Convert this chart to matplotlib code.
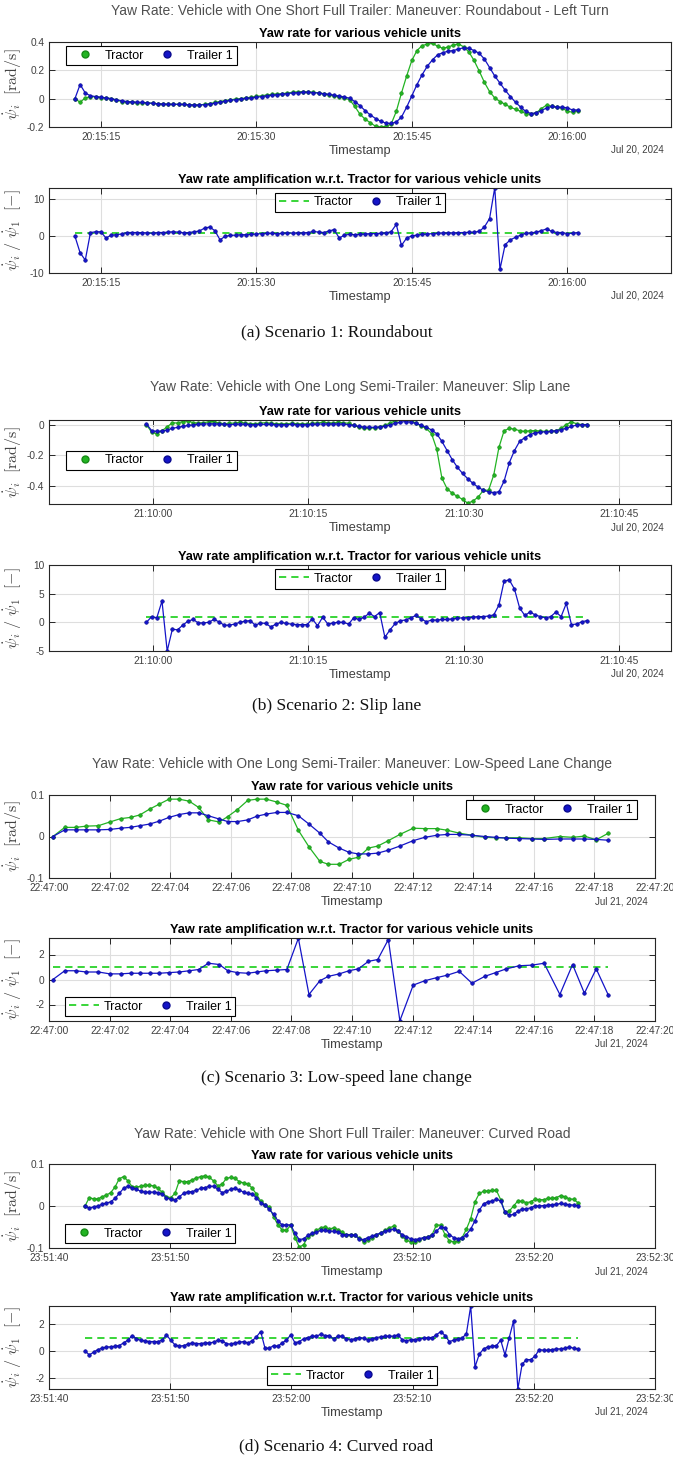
import numpy as np
import pandas as pd
import matplotlib
matplotlib.use('Agg')
import matplotlib.pyplot as plt
import matplotlib.dates as mdates
from matplotlib.lines import Line2D
from matplotlib.ticker import FuncFormatter

plt.rcParams['font.family'] = ['Liberation Sans', 'DejaVu Sans']
plt.rcParams['mathtext.fontset'] = 'cm'
plt.rcParams['axes.unicode_minus'] = False

# ---------------- data (yaw rate in rad/s, ratio trailer/tractor) ----------------
tractor_ref = 1.0

# Scenario 1: roundabout, samples every 0.5 s from 20:15:12.5
s1_start = '2024-07-20 20:15:12.5'
s1_dt = 0.5
s1_tractor = [0, -0.025, 0.005, 0.015, 0.012, 0.008, 0.005, 0.0, -0.01, -0.02,
              -0.025, -0.026, -0.028, -0.029, -0.03, -0.033, -0.036, -0.039, -0.04, -0.04,
              -0.04, -0.041, -0.043, -0.044, -0.045, -0.04, -0.035, -0.027, -0.02, -0.013,
              -0.008, -0.003, 0.0, 0.006, 0.01, 0.016, 0.02, 0.026, 0.03, 0.033,
              0.035, 0.04, 0.045, 0.048, 0.05, 0.047, 0.045, 0.04, 0.035, 0.028,
              0.02, 0.012, 0.005, -0.008, -0.055, -0.11, -0.145, -0.17, -0.195, -0.2,
              -0.195, -0.18, -0.09, 0.04, 0.16, 0.27, 0.34, 0.375, 0.385, 0.39,
              0.37, 0.355, 0.365, 0.378, 0.388, 0.365, 0.33, 0.27, 0.195, 0.115,
              0.05, 0.005, -0.02, -0.04, -0.06, -0.075, -0.09, -0.105, -0.11, -0.1,
              -0.07, -0.045, -0.055, -0.06, -0.065, -0.09, -0.095, -0.085]
s1_trailer = [0, 0.1, 0.04, 0.02, 0.015, 0.01, 0.005, 0.0, -0.008, -0.015,
              -0.02, -0.023, -0.025, -0.027, -0.03, -0.033, -0.036, -0.038, -0.04, -0.04,
              -0.04, -0.041, -0.043, -0.045, -0.045, -0.042, -0.038, -0.032, -0.025, -0.018,
              -0.012, -0.007, -0.003, 0.002, 0.006, 0.01, 0.015, 0.02, 0.024, 0.028,
              0.032, 0.036, 0.04, 0.043, 0.045, 0.045, 0.043, 0.04, 0.035, 0.03,
              0.025, 0.018, 0.012, 0.003, -0.02, -0.05, -0.085, -0.115, -0.14, -0.16,
              -0.172, -0.175, -0.165, -0.13, -0.06, 0.02, 0.1, 0.17, 0.23, 0.275,
              0.31, 0.325, 0.335, 0.34, 0.35, 0.36, 0.355, 0.34, 0.32, 0.28,
              0.22, 0.16, 0.11, 0.06, 0.015, -0.025, -0.06, -0.09, -0.105, -0.1,
              -0.085, -0.065, -0.055, -0.06, -0.06, -0.065, -0.08, -0.08]
s1_ratio = [0, -4.5, -6.5, 1.0, 1.2, 1.2, -0.5, 0.3, 0.4, 0.6,
            1.0, 1.0, 1.0, 0.95, 0.9, 0.8, 1.0, 1.0, 1.1, 1.2,
            1.1, 0.9, 1.0, 1.2, 1.4, 2.2, 2.5, 1.5, -1.0, 0.0,
            0.2, 0.3, 0.4, 0.4, 0.5, 0.6, 0.7, 0.8, 0.8, 0.7,
            0.8, 0.9, 0.85, 0.9, 0.9, 1.0, 1.3, 1.1, 1.0, 1.4,
            1.8, -0.5, 0.3, 0.5, 0.4, 0.5, 0.6, 0.7, 0.7, 0.8,
            0.9, 1.2, 3.2, -2.5, -0.5, 0.1, 0.3, 0.5, 0.6, 0.7,
            0.8, 0.9, 0.9, 0.9, 0.95, 1.0, 1.05, 1.1, 1.3, 2.5,
            4.8, 13.2, -9.0, -2.3, -1.0, -0.3, 0.3, 0.8, 0.9, 1.1,
            1.5, 2.0, 1.3, 1.0, 1.0, 0.7, 0.8, 1.0]

# Scenario 2: slip lane, samples every 0.5 s from 21:09:59.4
s2_start = '2024-07-20 21:09:59.4'
s2_dt = 0.5
s2_tractor = [0, -0.05, -0.06, -0.04, -0.015, 0.012, 0.01, 0.02, 0.025, 0.012,
              0.01, 0.012, 0.018, 0.02, 0.01, 0.006, 0.008, 0.01, 0.015, 0.01,
              0.006, 0.005, 0.01, 0.012, 0.008, 0.006, 0.005, 0.005, 0.008, 0.006,
              0.005, 0.004, 0.008, 0.01, 0.015, 0.012, 0.01, 0.015, 0.012, 0.008,
              -0.005, -0.018, -0.022, -0.025, -0.022, -0.015, -0.005, 0.01, 0.025, 0.035,
              0.035, 0.028, 0.01, -0.01, -0.025, -0.06, -0.16, -0.35, -0.42, -0.45,
              -0.47, -0.49, -0.515, -0.5, -0.475, -0.43, -0.43, -0.33, -0.15, -0.04,
              -0.025, -0.03, -0.04, -0.045, -0.04, -0.04, -0.042, -0.045, -0.045, -0.04,
              -0.025, 0.0, 0.018, 0.005, 0.0, 0.0]
s2_trailer = [0.005, -0.04, -0.045, -0.042, -0.035, -0.025, -0.018, -0.012, -0.006, -0.002,
              0.002, 0.004, 0.005, 0.005, 0.004, 0.002, 0.0, 0.002, 0.003, 0.002,
              0.0, 0.0, 0.001, 0.002, 0.001, 0.0, 0.0, 0.0, 0.001, 0.0,
              0.0, 0.0, 0.001, 0.003, 0.004, 0.004, 0.004, 0.004, 0.003, 0.0,
              -0.006, -0.012, -0.016, -0.018, -0.018, -0.016, -0.01, -0.002, 0.008, 0.016,
              0.02, 0.016, 0.008, -0.005, -0.018, -0.035, -0.06, -0.11, -0.17, -0.23,
              -0.28, -0.32, -0.355, -0.385, -0.41, -0.43, -0.44, -0.445, -0.44, -0.37,
              -0.25, -0.17, -0.11, -0.085, -0.065, -0.055, -0.05, -0.047, -0.045, -0.04,
              -0.033, -0.025, -0.012, -0.003, 0.0, 0.0]
s2_ratio = [0, 1.0, 0.8, 3.7, -5.0, -1.2, -1.3, -0.5, 0.2, 0.5,
            -0.1, -0.1, 0.0, 0.5, 0.1, -0.5, -0.5, -0.3, 0.0, 0.2,
            0.3, -0.5, -0.1, -0.2, -0.8, -0.3, 0.0, -0.2, -0.3, -0.4,
            -0.4, -0.4, 0.6, -0.6, 0.9, -0.3, -0.1, 0.0, 0.0, -0.3,
            0.8, 0.5, 0.9, 1.6, 1.0, 1.7, -2.6, -1.3, -0.2, 0.3,
            0.4, 0.8, 1.2, 0.6, 0.1, 0.4, 0.4, 0.5, 0.5, 0.6,
            0.7, 0.8, 0.8, 0.9, 1.0, 1.0, 1.1, 1.3, 3.0, 7.2,
            7.4, 5.8, 2.5, 1.2, 1.8, 1.3, 1.0, 0.8, 1.0, 1.8,
            1.0, 3.3, -0.4, -0.3, 0.1, 0.3]

# Scenario 3: low-speed lane change, seconds after 22:47:00
s3_start = '2024-07-21 22:47:00'
s3_sec = [0.13, 0.52, 0.88, 1.23, 1.63, 2.01, 2.36, 2.69, 3.00, 3.32,
          3.64, 3.96, 4.30, 4.63, 4.94, 5.26, 5.62, 5.90, 6.22, 6.56,
          6.86, 7.17, 7.52, 7.85, 8.23, 8.58, 8.94, 9.22, 9.58, 9.90,
          10.21, 10.54, 10.85, 11.20, 11.58, 12.02, 12.40, 12.80, 13.15, 13.54,
          13.96, 14.38, 14.74, 15.09, 15.52, 15.94, 16.34, 16.86, 17.28, 17.67,
          18.06, 18.46]
s3_tractor = [0, 0.022, 0.022, 0.025, 0.026, 0.035, 0.043, 0.046, 0.052, 0.066,
              0.078, 0.09, 0.09, 0.085, 0.07, 0.04, 0.035, 0.048, 0.065, 0.087,
              0.09, 0.09, 0.083, 0.075, 0.015, -0.025, -0.06, -0.067, -0.067, -0.055,
              -0.05, -0.028, -0.023, -0.01, 0.005, 0.02, 0.019, 0.019, 0.015, 0.008,
              0.003, -0.002, -0.003, -0.003, -0.003, -0.005, -0.005, 0.0, -0.002, 0.001,
              -0.008, 0.008]
s3_trailer = [0, 0.016, 0.016, 0.016, 0.016, 0.017, 0.02, 0.022, 0.026, 0.03,
              0.037, 0.046, 0.053, 0.057, 0.057, 0.05, 0.042, 0.036, 0.036, 0.04,
              0.049, 0.054, 0.058, 0.058, 0.05, 0.03, 0.008, -0.013, -0.028, -0.038,
              -0.042, -0.042, -0.04, -0.033, -0.023, -0.01, -0.002, 0.003, 0.005, 0.005,
              0.003, 0.0, -0.002, -0.004, -0.005, -0.006, -0.007, -0.006, -0.006, -0.006,
              -0.007, -0.009]
s3_ratio = [0, 0.7, 0.7, 0.6, 0.6, 0.45, 0.45, 0.5, 0.5, 0.5,
            0.5, 0.55, 0.6, 0.7, 0.8, 1.3, 1.2, 0.7, 0.55, 0.5,
            0.6, 0.7, 0.75, 0.8, 3.3, -1.2, -0.1, 0.25, 0.45, 0.7,
            0.85, 1.45, 1.6, 3.2, -3.3, -0.45, -0.1, 0.15, 0.35, 0.65,
            -0.3, 0.25, 0.55, 0.85, 1.1, 1.15, 1.3, -1.2, 1.2, -1.1,
            0.85, -1.25]

# Scenario 4: curved road, samples every 0.3536 s from 23:51:42.97
s4_start = '2024-07-21 23:51:42.97'
s4_dt = 0.3536
s4_tractor = [0, 0.02, 0.017, 0.017, 0.022, 0.026, 0.032, 0.045, 0.065, 0.07,
              0.06, 0.046, 0.045, 0.047, 0.049, 0.049, 0.048, 0.042, 0.033, 0.022,
              0.02, 0.03, 0.06, 0.058, 0.058, 0.062, 0.067, 0.07, 0.072, 0.068,
              0.06, 0.048, 0.052, 0.066, 0.068, 0.066, 0.058, 0.055, 0.052, 0.043,
              0.028, 0.012, 0.002, -0.003, -0.025, -0.045, -0.057, -0.058, -0.046, -0.075,
              -0.098, -0.092, -0.074, -0.066, -0.058, -0.052, -0.05, -0.055, -0.052, -0.056,
              -0.062, -0.07, -0.07, -0.07, -0.077, -0.085, -0.08, -0.075, -0.07, -0.065,
              -0.058, -0.052, -0.048, -0.06, -0.072, -0.082, -0.085, -0.085, -0.08, -0.076,
              -0.074, -0.068, -0.045, -0.046, -0.068, -0.083, -0.085, -0.084, -0.075, -0.055,
              -0.03, 0.01, 0.03, 0.035, 0.036, 0.037, 0.037, 0.015, -0.015, -0.012,
              0.0, 0.012, 0.011, 0.008, 0.01, 0.016, 0.015, 0.015, 0.018, 0.018,
              0.02, 0.025, 0.022, 0.017, 0.016, 0.008]
s4_trailer = [0, -0.005, -0.002, 0.0, 0.004, 0.007, 0.01, 0.018, 0.03, 0.042,
              0.047, 0.043, 0.04, 0.035, 0.033, 0.033, 0.033, 0.032, 0.028, 0.02,
              0.016, 0.014, 0.022, 0.03, 0.034, 0.034, 0.038, 0.042, 0.044, 0.047,
              0.047, 0.04, 0.032, 0.035, 0.04, 0.042, 0.038, 0.033, 0.03, 0.028,
              0.02, 0.008, 0.002, -0.008, -0.02, -0.035, -0.045, -0.045, -0.045, -0.065,
              -0.08, -0.078, -0.07, -0.065, -0.062, -0.058, -0.058, -0.06, -0.06, -0.062,
              -0.068, -0.068, -0.068, -0.07, -0.078, -0.08, -0.075, -0.072, -0.068, -0.064,
              -0.06, -0.057, -0.055, -0.06, -0.068, -0.073, -0.078, -0.08, -0.078, -0.075,
              -0.074, -0.07, -0.06, -0.05, -0.052, -0.068, -0.075, -0.078, -0.076, -0.068,
              -0.055, -0.035, -0.01, 0.005, 0.01, 0.012, 0.016, 0.012, -0.015, -0.022,
              -0.02, -0.012, -0.008, -0.007, -0.004, 0.0, 0.0, 0.001, 0.002, 0.003,
              0.004, 0.006, 0.004, 0.003, 0.002, 0.001]
s4_ratio = [0, -0.3, -0.1, 0.1, 0.2, 0.3, 0.3, 0.35, 0.4, 0.6,
            0.8, 1.15, 0.9, 0.8, 0.75, 0.7, 0.7, 0.7, 0.8, 1.2,
            0.8, 0.45, 0.35, 0.4, 0.5, 0.6, 0.55, 0.55, 0.6, 0.6,
            0.65, 0.8, 0.75, 0.55, 0.5, 0.6, 0.65, 0.7, 0.6, 0.75,
            1.05, 1.45, 0.2, 0.2, 0.4, 0.35, 0.6, 0.8, 1.2, 0.6,
            0.7, 0.9, 1.0, 1.1, 1.1, 1.25, 1.15, 1.15, 0.9, 1.1,
            1.1, 0.9, 0.85, 0.9, 1.0, 0.95, 0.85, 0.9, 1.0, 1.05,
            1.1, 1.1, 1.1, 1.2, 0.85, 0.75, 0.85, 0.85, 0.9, 0.95,
            1.0, 1.0, 1.2, 1.45, 1.15, 0.7, 0.8, 0.9, 0.95, 1.3,
            3.35, -1.2, -0.25, 0.15, 0.3, 0.35, 0.4, 0.8, -0.3, 1.0,
            2.25, -2.85, -1.0, -0.65, -0.65, -0.4, 0.1, 0.05, 0.05, 0.1,
            0.15, 0.15, 0.2, 0.3, 0.2, 0.15]

# ---------------- figure ----------------
W, H = 673, 1457
fig = plt.figure(figsize=(W / 100, H / 100), dpi=100)

GREEN = '#22b422'
GREEN_EDGE = '#158a15'
BLUE = '#1414c8'
BLUE_EDGE = '#0a0a90'
DASH_GREEN = '#2ad22a'
DARK = '#262626'
GREY = '#404040'


def stamps(start, sec):
    return (pd.Timestamp(start) + pd.to_timedelta(np.asarray(sec, dtype=float), unit='s')).to_numpy()


def px_axes(x0, y0, x1, y1):
    return fig.add_axes([x0 / W, 1 - y1 / H, (x1 - x0) / W, (y1 - y0) / H])


def style(ax, xlim, ylim, yticks, locator, date_text, ylabel, axw):
    ax.set_xlim(np.datetime64(xlim[0]), np.datetime64(xlim[1]))
    ax.set_ylim(ylim)
    ax.set_yticks(yticks)
    ax.yaxis.set_major_formatter(FuncFormatter(lambda v, p: f'{v:g}'))
    ax.xaxis.set_major_locator(locator)
    ax.xaxis.set_major_formatter(mdates.DateFormatter('%H:%M:%S'))
    ax.grid(True, color='#dedede', lw=0.8)
    ax.set_axisbelow(True)
    ax.tick_params(direction='in', top=True, right=True, length=4, width=0.7,
                   color=DARK, labelcolor=GREY, labelsize=7.3, pad=3.5)
    for s in ax.spines.values():
        s.set_color(DARK)
        s.set_linewidth(0.8)
    ax.set_xlabel('Timestamp', fontsize=9.2, color=GREY, labelpad=2)
    ax.annotate(date_text, xy=(1, 0), xycoords='axes fraction', xytext=(-7, -23),
                textcoords='offset pixels', ha='right', va='center', fontsize=7, color=GREY)
    ax.set_ylabel(ylabel, fontsize=11.5, color=GREY)
    ax.yaxis.label.set_va('center')
    ax.yaxis.set_label_coords(-36 / axw, 0.5)


def legend(ax, loc, anchor, dashed):
    first = (Line2D([], [], ls='--', dashes=(4, 2.8), color=DASH_GREEN, lw=1.3, label='Tractor') if dashed
             else Line2D([], [], ls='none', marker='o', ms=5, mfc=GREEN, mec=GREEN_EDGE, label='Tractor'))
    second = Line2D([], [], ls='none', marker='o', ms=5, mfc=BLUE, mec=BLUE_EDGE, label='Trailer 1')
    leg = ax.legend(handles=[first, second], loc=loc, bbox_to_anchor=anchor, ncol=2, fontsize=9,
                    frameon=True, fancybox=False, edgecolor='black', framealpha=1,
                    handlelength=2.4, handletextpad=0.4, columnspacing=0.6, borderpad=0.3,
                    borderaxespad=0)
    leg.get_frame().set_linewidth(0.8)


def scenario(box_top, box_amp, t, tractor, trailer, ratio, xlim, ylim_top, yt_top,
             ylim_amp, yt_amp, locator, date_text, leg_top, leg_amp, suptitle, sup_y, caption, cap_y):
    x0, x1 = box_top[0], box_top[2]
    axw = x1 - x0
    fig.text((x0 + x1) / 2 / W, 1 - sup_y / H, suptitle, ha='center', va='center',
             fontsize=10, color='#505050')
    fig.text(0.5, 1 - cap_y / H, caption, ha='center', va='center', fontsize=12.5,
             family=['Liberation Serif', 'DejaVu Serif'], color='#111111')

    ax = px_axes(*box_top)
    ax.plot(t[:len(tractor)], tractor, '-', color=GREEN, lw=0.9, marker='o', ms=2.6,
            mfc=GREEN, mec=GREEN_EDGE, mew=0.4)
    ax.plot(t[:len(trailer)], trailer, '-', color=BLUE, lw=0.9, marker='o', ms=2.6,
            mfc=BLUE, mec=BLUE_EDGE, mew=0.4)
    ax.set_title('Yaw rate for various vehicle units', fontsize=9.2, fontweight='bold', pad=3.5)
    style(ax, xlim, ylim_top, yt_top, locator, date_text, r'$\dot{\psi}_i\ \ \mathrm{[rad/s]}$', axw)
    legend(ax, leg_top[0], leg_top[1], False)

    ax = px_axes(*box_amp)
    ax.plot([t[0], t[len(ratio) - 1]], [tractor_ref, tractor_ref], ls='--', dashes=(4, 2.8),
            color=DASH_GREEN, lw=1.3)
    ax.plot(t[:len(ratio)], ratio, '-', color=BLUE, lw=0.9, marker='o', ms=2.6,
            mfc=BLUE, mec=BLUE_EDGE, mew=0.4)
    ax.set_title('Yaw rate amplification w.r.t. Tractor for various vehicle units',
                 fontsize=9.2, fontweight='bold', pad=3.5)
    style(ax, xlim, ylim_amp, yt_amp, locator, date_text,
          r'$\dot{\psi}_i\ /\ \dot{\psi}_1\ \ \mathrm{[-]}$', axw)
    legend(ax, leg_amp[0], leg_amp[1], True)


n1 = max(len(s1_tractor), len(s1_trailer), len(s1_ratio))
scenario((49, 42, 671, 127), (49, 188, 671, 273),
         stamps(s1_start, np.arange(n1) * s1_dt), s1_tractor, s1_trailer, s1_ratio,
         ('2024-07-20T20:15:10', '2024-07-20T20:16:10'), (-0.2, 0.4), [-0.2, 0, 0.2, 0.4],
         (-10, 13.1), [-10, 0, 10], mdates.SecondLocator(bysecond=[0, 15, 30, 45]),
         'Jul 20, 2024', ('upper left', (0.028, 0.953)), ('upper center', (0.5, 0.945)),
         'Yaw Rate: Vehicle with One Short Full Trailer: Maneuver: Roundabout - Left Turn', 11,
         '(a) Scenario 1: Roundabout', 332)

n2 = max(len(s2_tractor), len(s2_trailer), len(s2_ratio))
scenario((49, 420, 671, 504), (49, 565, 671, 651),
         stamps(s2_start, np.arange(n2) * s2_dt), s2_tractor, s2_trailer, s2_ratio,
         ('2024-07-20T21:09:50', '2024-07-20T21:10:50'), (-0.52, 0.03), [-0.4, -0.2, 0],
         (-5, 10), [-5, 0, 5, 10], mdates.SecondLocator(bysecond=[0, 15, 30, 45]),
         'Jul 20, 2024', ('upper left', (0.028, 0.635)), ('upper center', (0.5, 0.953)),
         'Yaw Rate: Vehicle with One Long Semi-Trailer: Maneuver: Slip Lane', 387,
         '(b) Scenario 2: Slip lane', 706)

scenario((49, 795, 655, 878), (49, 938, 655, 1021),
         stamps(s3_start, s3_sec), s3_tractor, s3_trailer, s3_ratio,
         ('2024-07-21T22:47:00', '2024-07-21T22:47:20'), (-0.1, 0.1), [-0.1, 0, 0.1],
         (-3.32, 3.32), [-2, 0, 2], mdates.SecondLocator(bysecond=range(0, 60, 2)),
         'Jul 21, 2024', ('upper right', (0.9695, 0.94)), ('lower left', (0.0264, 0.057)),
         'Yaw Rate: Vehicle with One Long Semi-Trailer: Maneuver: Low-Speed Lane Change', 764,
         '(c) Scenario 3: Low-speed lane change', 1078)

n4 = max(len(s4_tractor), len(s4_trailer), len(s4_ratio))
scenario((49, 1164, 655, 1248), (49, 1306, 655, 1389),
         stamps(s4_start, np.arange(n4) * s4_dt), s4_tractor, s4_trailer, s4_ratio,
         ('2024-07-21T23:51:40', '2024-07-21T23:52:30'), (-0.1, 0.1), [-0.1, 0, 0.1],
         (-2.85, 3.36), [-2, 0, 2], mdates.SecondLocator(bysecond=range(0, 60, 10)),
         'Jul 21, 2024', ('lower left', (0.0264, 0.056)), ('lower center', (0.5, 0.043)),
         'Yaw Rate: Vehicle with One Short Full Trailer: Maneuver: Curved Road', 1134,
         '(d) Scenario 4: Curved road', 1446)

fig.savefig('out.png', dpi=100)
